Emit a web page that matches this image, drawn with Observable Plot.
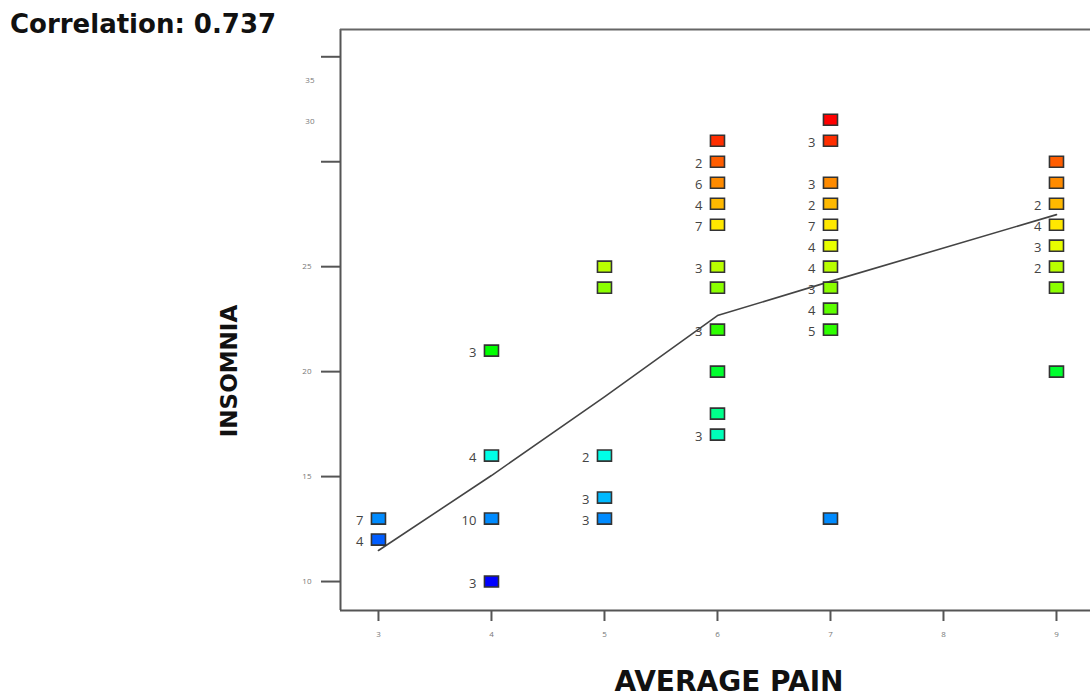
<!DOCTYPE html>
<html>
<head>
<meta charset="utf-8">
<script src="https://cdn.jsdelivr.net/npm/d3@7"></script>
<script src="https://cdn.jsdelivr.net/npm/@observablehq/plot@0.6"></script>
<style>
  html, body { margin: 0; padding: 0; background: #fff; }
  #wrap { position: relative; width: 1090px; height: 700px; overflow: hidden; font-family: "DejaVu Sans", sans-serif; }
  #title { position: absolute; left: 10px; top: 11px; font-size: 26px; font-weight: 700; color: #111; line-height: 1; white-space: nowrap; }
  #xlabel { position: absolute; left: 729px; top: 668px; transform: translateX(-50%); font-size: 28px; font-weight: 700; color: #111; line-height: 1; white-space: nowrap; }
  #ylabel { position: absolute; left: 229px; top: 371px; transform: translate(-50%, -50%) rotate(-90deg); font-size: 23px; font-weight: 700; color: #111; line-height: 1; white-space: nowrap; }
  #chart { position: absolute; left: 0; top: 0; }
</style>
</head>
<body>
<div id="wrap">
  <div id="chart"></div>
  <div id="title">Correlation: 0.737</div>
  <div id="ylabel">INSOMNIA</div>
  <div id="xlabel">AVERAGE PAIN</div>
</div>
<script>
// ---- data ----
const painX = [3, 3,
  4, 4, 4, 4,
  5, 5, 5, 5, 5,
  6, 6, 6, 6, 6, 6, 6, 6, 6, 6, 6,
  7, 7, 7, 7, 7, 7, 7, 7, 7, 7, 7,
  9, 9, 9, 9, 9, 9, 9, 9];
const insomniaY = [13, 12,
  21, 16, 13, 10,
  25, 24, 16, 14, 13,
  31, 30, 29, 28, 27, 25, 24, 22, 20, 18, 17,
  32, 31, 29, 28, 27, 26, 25, 24, 23, 22, 13,
  30, 29, 28, 27, 26, 25, 24, 20];
const caseCounts = [7, 4,
  3, 4, 10, 3,
  1, 1, 2, 3, 3,
  1, 2, 6, 4, 7, 3, 1, 3, 1, 1, 3,
  1, 3, 3, 2, 7, 4, 4, 3, 4, 5, 1,
  1, 1, 2, 4, 3, 2, 1, 1];

const fitX = [3, 4, 5, 6, 7, 9];
const fitY = [11.48, 15.05, 18.8, 22.67, 24.3, 27.48];

const xTickValues = [3, 4, 5, 6, 7, 8, 9];
const yTickValues = [10, 15, 20, 25, 30, 35];
const yTickLabels = ["10", "15", "20", "25", "", ""];
const strayLabelValues = [31.9, 33.86];
const strayLabelText = ["30", "35"];

const xDomain = [2.664, 9.301];
const yDomain = [8.62, 36.3];
const colorDomain = [10, 32];

// ---- build ----
const points = painX.map((x, i) => ({x, y: insomniaY[i], n: caseCounts[i]}));
const labeled = points.filter(d => d.n > 1);
const fit = fitX.map((x, i) => ({x, y: fitY[i]}));
const stray = strayLabelValues.map((v, i) => ({y: v, t: strayLabelText[i]}));

const rectSymbol = {
  draw(ctx, size) {
    const a = Math.sqrt(size);
    const w = a * 1.13, h = a * 0.89;
    ctx.rect(-w / 2, -h / 2, w, h);
  }
};

const chart = Plot.plot({
  width: 1090,
  height: 700,
  marginLeft: 340,
  marginRight: 0,
  marginTop: 29,
  marginBottom: 90,
  style: {background: "#fff", fontFamily: "'Open Sans', sans-serif"},
  x: {domain: xDomain, axis: null},
  y: {domain: yDomain, axis: null},
  color: {type: "linear", domain: colorDomain, interpolate: t => d3.hsl(240 * (1 - t), 1, 0.5).toString()},
  marks: [
    Plot.axisX({ticks: xTickValues, tickFormat: d => String(d), tickSize: 11, tickPadding: 10, fontSize: 8, stroke: "#555", strokeWidth: 2, fill: "#777", label: null}),
    Plot.axisY({ticks: yTickValues, tickFormat: d => yTickLabels[yTickValues.indexOf(d)], tickSize: 19, tickPadding: 10, fontSize: 8, stroke: "#555", strokeWidth: 2, fill: "#777", label: null}),
    Plot.text(stray, {y: "y", text: "t", frameAnchor: "left", dx: -26, textAnchor: "end", fontSize: 8, fill: "#777"}),
    Plot.ruleX([xDomain[0]], {stroke: "#555", strokeWidth: 2}),
    Plot.ruleY([yDomain[0]], {stroke: "#555", strokeWidth: 2}),
    Plot.ruleY([yDomain[1]], {stroke: "#666", strokeWidth: 2}),
    Plot.line(fit, {x: "x", y: "y", stroke: "#444", strokeWidth: 1.6}),
    Plot.dot(points, {x: "x", y: "y", r: 7, symbol: rectSymbol, fill: "y", stroke: "#333", strokeWidth: 1.6, fillOpacity: 1}),
    Plot.text(labeled, {x: "x", y: "y", text: d => String(d.n), dx: -15, dy: 2, textAnchor: "end", fontSize: 13, fill: "#444"})
  ]
});
document.getElementById("chart").appendChild(chart);
</script>
</body>
</html>
